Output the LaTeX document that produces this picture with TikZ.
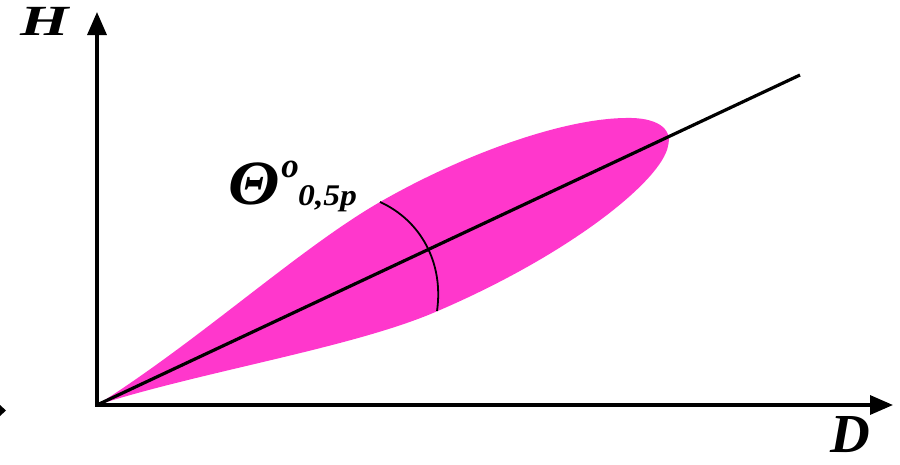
\documentclass[tikz,border=0pt]{standalone}
\usepackage{fontspec}
\usepackage{graphicx}
\setmainfont{Liberation Serif}
\usetikzlibrary{arrows.meta}
\definecolor{lobe}{RGB}{255,55,204}
\tikzset{
  axis/.style={line width=3.4pt, -{Triangle[length=23pt,width=19pt]}},
  lbl/.style={inner sep=0pt},
}
\begin{document}
\begin{tikzpicture}[x=1pt,y=-1pt]
\useasboundingbox (0,0) rectangle (900,464);
\coordinate (O) at (97,405);
\coordinate (Ytip) at (97,12);
\coordinate (Xtip) at (893,405);
\coordinate (Rend) at (800,75);
% lobe
\fill[lobe] (O) .. controls (200,340) and (300,248) .. (380,202)
  .. controls (460,156) and (560,119) .. (625,118)
  .. controls (656,117) and (673,128) .. (668,146)
  .. controls (662,180) and (570,255) .. (433,313)
  .. controls (350,348) and (200,372) .. (O) -- cycle;
% ray
\draw[line width=3.2pt] (O) -- (Rend);
% arc
\coordinate (A1) at (380,202);
\coordinate (A2) at (437,311);
\draw[line width=1.8pt] (A1) .. controls (420,220) and (444,262) .. (A2);
% axes
\draw[axis] (97,406.7) -- (Ytip);
\draw[axis] (95.3,405) -- (Xtip);
% small cut arrow at left edge
\fill (0,405) -- (6,410.5) -- (0,416) -- cycle;
% labels
\node[lbl, font=\fontsize{43}{43}\selectfont\bfseries\itshape] (H) at (45,21.5) {\scalebox{1.45}[1]{H}};
\node[lbl, font=\fontsize{55}{55}\selectfont\bfseries\itshape] (D) at (850,434.5) {D};
\node[lbl, font=\fontsize{63}{63}\selectfont\bfseries\itshape] (T) at (254,184) {\scalebox{1.07}[1]{Θ}};
\node[lbl, font=\fontsize{35}{35}\selectfont\bfseries\itshape] (o) at (290,169) {o};
\node[lbl, anchor=base west, font=\fontsize{30}{30}\selectfont\bfseries\itshape] (s) at (298,205) {\scalebox{1.12}[1]{0,5p}};
\end{tikzpicture}
\end{document}
